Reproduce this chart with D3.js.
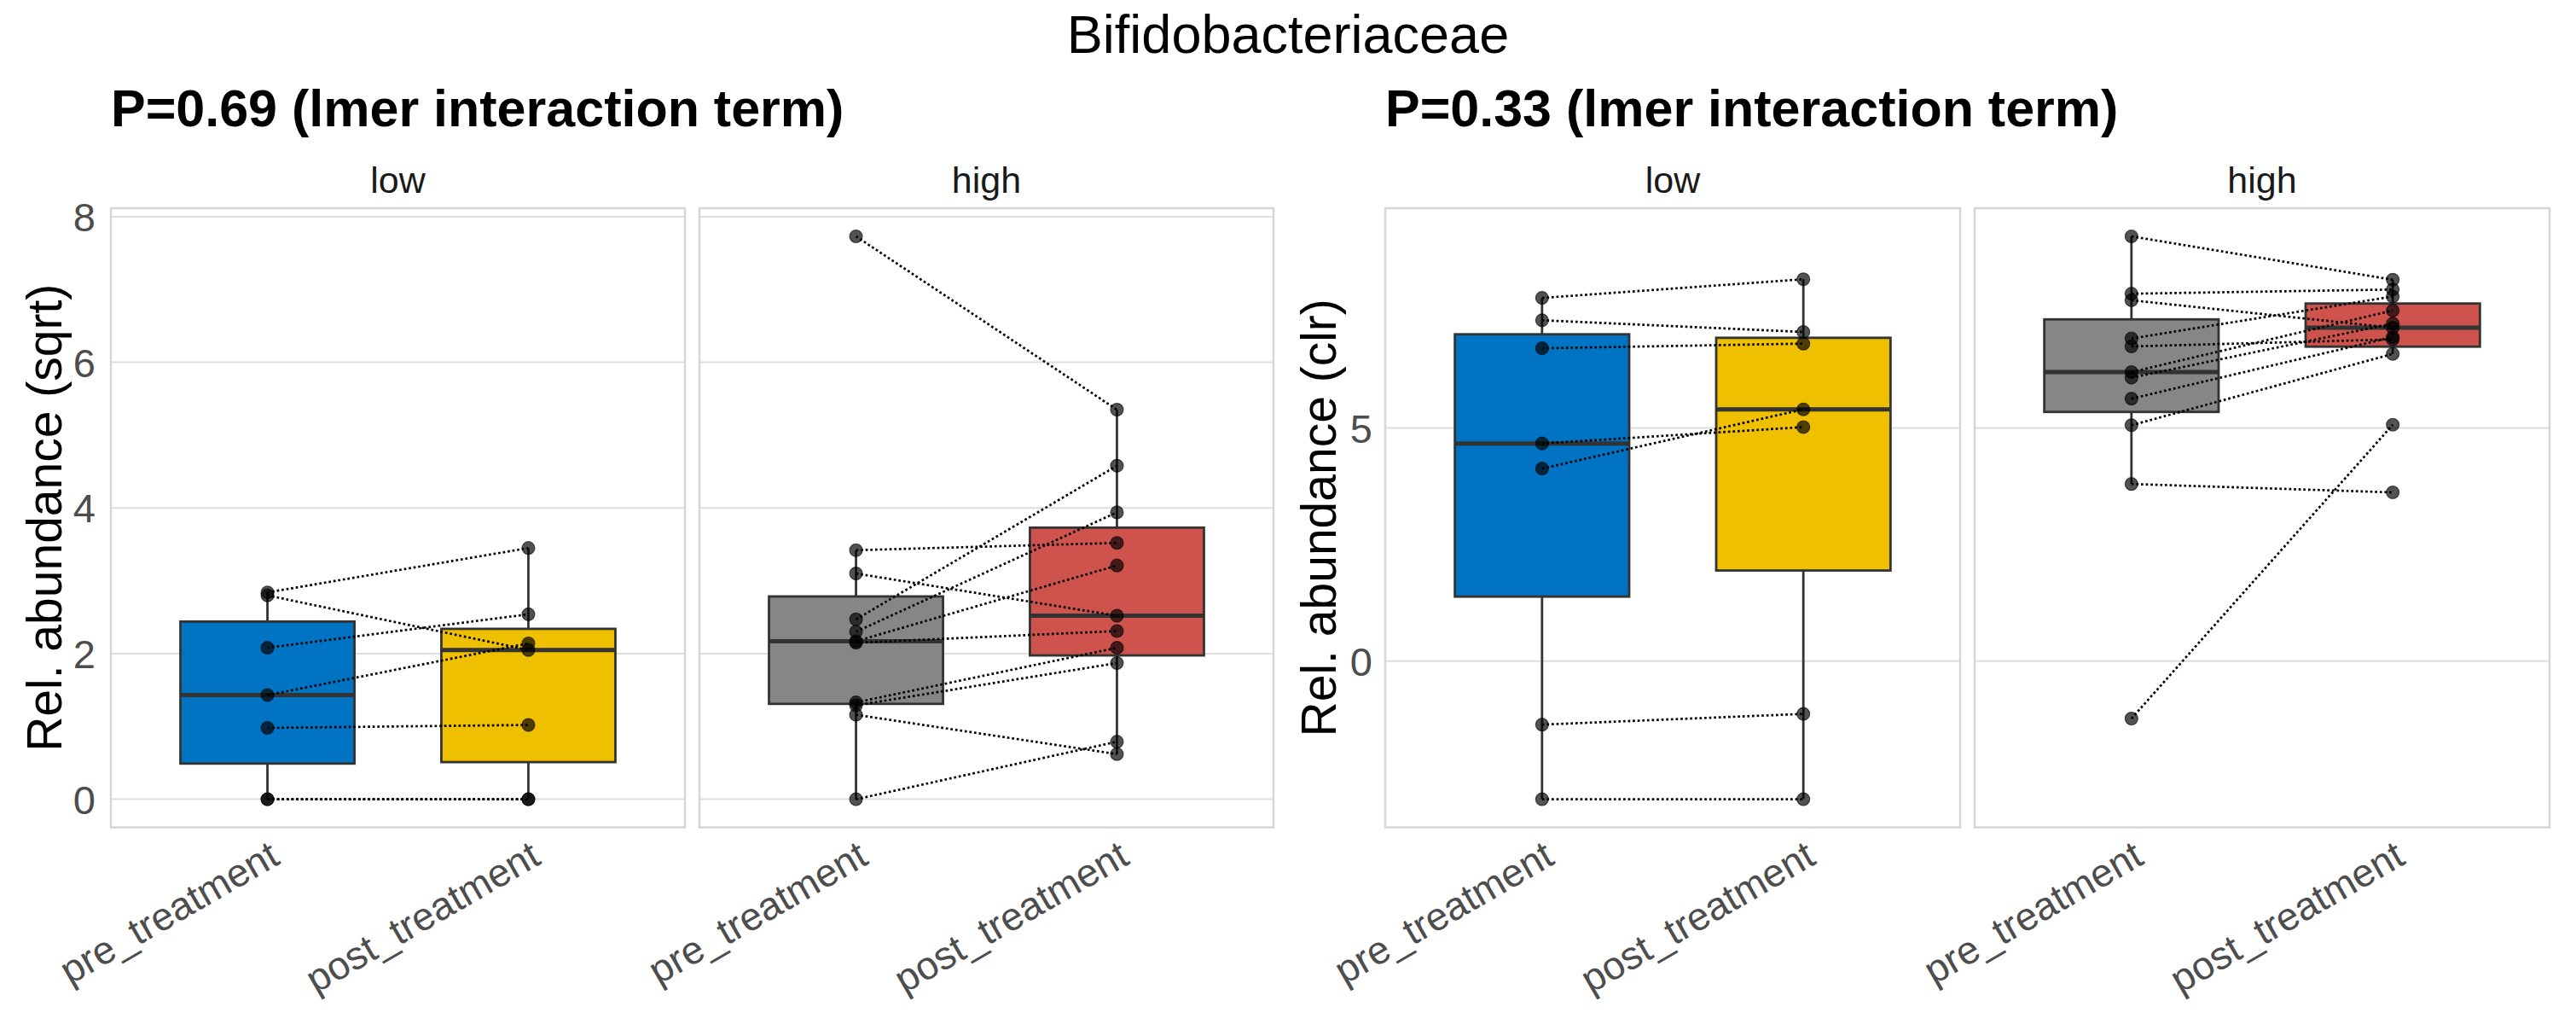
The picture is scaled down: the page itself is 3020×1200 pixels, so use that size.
<!DOCTYPE html>
<html>
<head>
<meta charset="utf-8">
<script src="https://cdn.jsdelivr.net/npm/d3@7"></script>
<style>
  html, body { margin: 0; padding: 0; background: #ffffff; }
  svg { display: block; font-family: "Liberation Sans", Arial, Helvetica, sans-serif; }
</style>
</head>
<body>
<svg id="chart" width="3020" height="1200"></svg>
<script>
// ---------------- data ----------------
const mainTitle = "Bifidobacteriaceae";
const categories = ["pre_treatment", "post_treatment"];
const facets = ["low", "high"];

// left plot: sqrt relative abundance (same index = same subject)
const sqrtTitle = "P=0.69 (lmer interaction term)";
const sqrtAxisTitle = "Rel. abundance (sqrt)";
const sqrtTicks = [0, 2, 4, 6, 8];
const sqrtLowPre   = [0, 0, 0.98, 1.43, 2.08, 2.80, 2.84];
const sqrtLowPost  = [0, 0, 1.02, 2.14, 2.54, 2.05, 3.45];
const sqrtHighPre  = [7.73, 3.42, 3.10, 2.47, 2.30, 2.17, 2.15, 1.33, 1.29, 1.16, 0];
const sqrtHighPost = [5.35, 3.52, 2.52, 4.58, 3.94, 3.21, 2.31, 2.08, 1.87, 0.62, 0.79];

// right plot: clr
const clrTitle = "P=0.33 (lmer interaction term)";
const clrAxisTitle = "Rel. abundance (clr)";
const clrTicks = [0, 5];
const clrLowPre   = [7.79, 7.31, 6.71, 4.67, 4.13, -1.36, -2.96];
const clrLowPost  = [8.19, 7.06, 6.81, 5.02, 5.40, -1.13, -2.96];
const clrHighPre  = [9.11, 7.88, 7.74, 6.92, 6.75, 6.20, 6.08, 5.63, 5.06, 3.80, -1.23];
const clrHighPost = [8.18, 7.97, 7.15, 7.82, 6.90, 7.52, 7.24, 6.95, 6.59, 3.62, 5.07];

const facetColors = { low: ["#0073C2", "#EFC000"], high: ["#868686", "#CD534C"] };

// ---------------- layout ----------------
const svg = d3.select("#chart");
const W = 3020;
const panelTop = 244, panelBottom = 969.6;

const plots = [
  { title: sqrtTitle, axisTitle: sqrtAxisTitle, ticks: sqrtTicks,
    panels: [[130, 803], [820, 1493]], tickRight: 112, axisTitleX: 72,
    data: { low: [sqrtLowPre, sqrtLowPost], high: [sqrtHighPre, sqrtHighPost] } },
  { title: clrTitle, axisTitle: clrAxisTitle, ticks: clrTicks,
    panels: [[1624, 2298], [2315, 2989]], tickRight: 1609, axisTitleX: 1566,
    data: { low: [clrLowPre, clrLowPost], high: [clrHighPre, clrHighPost] } }
];

svg.append("text")
  .attr("x", W / 2).attr("y", 62)
  .attr("text-anchor", "middle")
  .attr("font-size", 63).attr("fill", "#000")
  .text(mainTitle);

function boxStats(vals) {
  const s = vals.slice().sort(d3.ascending);
  const q1 = d3.quantile(s, 0.25), med = d3.quantile(s, 0.5), q3 = d3.quantile(s, 0.75);
  const iqr = q3 - q1;
  const lo = d3.min(s.filter(v => v >= q1 - 1.5 * iqr));
  const hi = d3.max(s.filter(v => v <= q3 + 1.5 * iqr));
  return { q1, med, q3, lo, hi };
}

plots.forEach(p => {
  const all = [].concat(...facets.map(f => p.data[f][0].concat(p.data[f][1])));
  const [mn, mx] = d3.extent(all);
  const pad = (mx - mn) * 0.05;
  const y = d3.scaleLinear().domain([mn - pad, mx + pad]).range([panelBottom, panelTop]);

  // plot title
  svg.append("text")
    .attr("x", p.panels[0][0]).attr("y", 148)
    .attr("font-size", 61).attr("font-weight", "bold").attr("fill", "#000")
    .text(p.title);

  // y axis title
  const ymid = (panelTop + panelBottom) / 2;
  svg.append("text")
    .attr("transform", `translate(${p.axisTitleX},${ymid}) rotate(-90)`)
    .attr("text-anchor", "middle")
    .attr("font-size", 57).attr("fill", "#000")
    .text(p.axisTitle);

  // y tick labels
  svg.append("g").selectAll("text").data(p.ticks).join("text")
    .attr("x", p.tickRight).attr("y", d => y(d))
    .attr("dy", "0.36em")
    .attr("text-anchor", "end")
    .attr("font-size", 47).attr("fill", "#4D4D4D")
    .text(d => d);

  facets.forEach((f, fi) => {
    const [L, R] = p.panels[fi];
    const x = d3.scalePoint().domain(categories).range([L, R]).padding(0.6);
    const step = x.step();
    const bw = step * 0.667;
    const g = svg.append("g");

    // strip label
    g.append("text")
      .attr("x", (L + R) / 2).attr("y", 226)
      .attr("text-anchor", "middle")
      .attr("font-size", 43).attr("fill", "#1A1A1A")
      .text(f);

    // grid
    g.append("g").selectAll("line").data(p.ticks).join("line")
      .attr("x1", L).attr("x2", R)
      .attr("y1", d => y(d)).attr("y2", d => y(d))
      .attr("stroke", "#DEDEDE").attr("stroke-width", 2);

    const [pre, post] = p.data[f];
    const groups = [pre, post];

    // boxes
    groups.forEach((vals, ci) => {
      const st = boxStats(vals);
      const cx = x(categories[ci]);
      g.append("line")
        .attr("x1", cx).attr("x2", cx).attr("y1", y(st.q3)).attr("y2", y(st.hi))
        .attr("stroke", "#333333").attr("stroke-width", 2.8);
      g.append("line")
        .attr("x1", cx).attr("x2", cx).attr("y1", y(st.q1)).attr("y2", y(st.lo))
        .attr("stroke", "#333333").attr("stroke-width", 2.8);
      g.append("rect")
        .attr("x", cx - bw / 2).attr("width", bw)
        .attr("y", y(st.q3)).attr("height", y(st.q1) - y(st.q3))
        .attr("fill", facetColors[f][ci])
        .attr("stroke", "#333333").attr("stroke-width", 2.8);
      g.append("line")
        .attr("x1", cx - bw / 2).attr("x2", cx + bw / 2)
        .attr("y1", y(st.med)).attr("y2", y(st.med))
        .attr("stroke", "#333333").attr("stroke-width", 5);
    });

    // points
    groups.forEach((vals, ci) => {
      g.append("g").selectAll("circle").data(vals).join("circle")
        .attr("cx", x(categories[ci])).attr("cy", d => y(d))
        .attr("r", 7.5)
        .attr("fill", "rgba(0,0,0,0.68)")
        .attr("stroke", "rgba(0,0,0,0.6)").attr("stroke-width", 1.2);
    });

    // paired lines
    g.append("g").selectAll("line").data(pre.map((v, i) => [v, post[i]])).join("line")
      .attr("x1", x(categories[0])).attr("x2", x(categories[1]))
      .attr("y1", d => y(d[0])).attr("y2", d => y(d[1]))
      .attr("stroke", "#000").attr("stroke-width", 2.7)
      .attr("stroke-dasharray", "2.7,2.9");

    // panel border
    g.append("rect")
      .attr("x", L).attr("y", panelTop).attr("width", R - L).attr("height", panelBottom - panelTop)
      .attr("fill", "none").attr("stroke", "#D6D6D6").attr("stroke-width", 2.5);

    // x tick labels (rotated 30deg, hjust = 1, vjust = 1)
    g.append("g").selectAll("text").data(categories).join("text")
      .attr("transform", d => `translate(${x(d)},${panelBottom + 13}) rotate(-30)`)
      .attr("text-anchor", "end")
      .attr("dy", "0.72em")
      .attr("font-size", 46).attr("fill", "#4D4D4D")
      .text(d => d);
  });
});
</script>
</body>
</html>
